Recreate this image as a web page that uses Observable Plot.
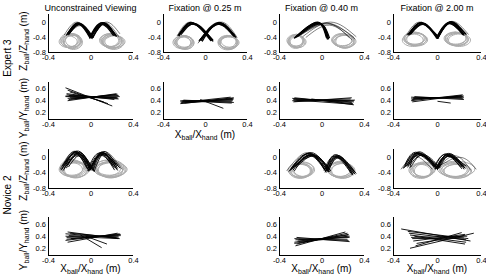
<!DOCTYPE html>
<html><head><meta charset="utf-8">
<script src="https://cdn.jsdelivr.net/npm/d3@7"></script>
<script src="https://cdn.jsdelivr.net/npm/@observablehq/plot@0.6"></script>
<style>
html,body{margin:0;padding:0;background:#fff;}
#fig{position:relative;width:486px;height:277px;overflow:hidden;background:#fff;font-family:"Liberation Sans",Arial,sans-serif;}
#fig svg{position:absolute;overflow:visible;}
</style></head><body><div id="fig"></div>
<script>
// ---------- text ----------
const titles = ["Unconstrained Viewing", "Fixation @ 0.25 m", "Fixation @ 0.40 m", "Fixation @ 2.00 m"];
const rowLabels = ["Expert 3", "Novice 2"];
const xTicks = [-0.4, 0, 0.4];
const zTicks = [-0.8, -0.4, 0];
const yTicks = [0.2, 0.4, 0.6];
const xDomain = [-0.4, 0.4];
const zDomain = [-0.8, 0.2];
const yDomain = [0.08, 0.71];

// ---------- Z panels: arcs [x0,z0, xPeak,zPeak, x1,z1]; loops [xLeft,xRight,zBottom,zTop] ----------
// Expert 3, unconstrained
const euCore = [
 [-0.21,-0.30,-0.11,-0.05,0.00,-0.40],[-0.22,-0.32,-0.12,-0.03,-0.01,-0.38],[-0.20,-0.28,-0.10,-0.06,0.01,-0.42],
 [-0.23,-0.34,-0.12,-0.02,0.00,-0.36],[-0.21,-0.33,-0.10,-0.04,0.02,-0.40],[-0.22,-0.29,-0.11,-0.07,-0.01,-0.42],
 [0.00,-0.40,0.11,-0.04,0.22,-0.34],[-0.01,-0.38,0.10,-0.02,0.23,-0.36],[0.01,-0.42,0.12,-0.05,0.22,-0.32],
 [0.00,-0.36,0.11,-0.01,0.24,-0.37],[0.02,-0.40,0.12,-0.03,0.23,-0.33],[-0.01,-0.42,0.10,-0.06,0.21,-0.35]];
const euThin = [[-0.25,-0.33,-0.13,0.00,0.01,-0.37],[-0.19,-0.26,-0.09,-0.10,0.01,-0.44],
 [0.00,-0.38,0.14,0.00,0.27,-0.30],[0.01,-0.40,0.13,-0.02,0.26,-0.38]];
const euLoops = [
 [-0.28,-0.10,-0.68,-0.32],[-0.26,-0.09,-0.70,-0.35],[-0.29,-0.12,-0.66,-0.30],[-0.25,-0.08,-0.72,-0.34],[-0.27,-0.11,-0.64,-0.33],[-0.26,-0.10,-0.69,-0.30],[-0.30,-0.13,-0.67,-0.36],[-0.24,-0.09,-0.65,-0.31],
 [0.10,0.29,-0.68,-0.32],[0.11,0.30,-0.70,-0.35],[0.09,0.27,-0.66,-0.30],[0.12,0.31,-0.72,-0.34],[0.10,0.28,-0.64,-0.33],[0.11,0.29,-0.69,-0.31],[0.13,0.32,-0.67,-0.36],[0.08,0.26,-0.65,-0.31]];
// Expert 3, fixation 0.25 m
const e25Core = [
 [-0.25,-0.33,-0.12,-0.03,0.06,-0.48],[-0.24,-0.30,-0.11,-0.05,0.05,-0.46],[-0.26,-0.35,-0.12,-0.02,0.07,-0.50],
 [-0.23,-0.32,-0.10,-0.04,0.06,-0.45],[-0.25,-0.36,-0.13,-0.01,0.05,-0.49],[-0.24,-0.31,-0.11,-0.06,0.07,-0.47],
 [0.27,-0.36,0.12,-0.03,-0.04,-0.48],[0.28,-0.38,0.13,-0.02,-0.05,-0.46],[0.26,-0.34,0.11,-0.05,-0.03,-0.50],
 [0.29,-0.40,0.12,-0.01,-0.05,-0.47],[0.27,-0.37,0.13,-0.04,-0.04,-0.45],[0.28,-0.35,0.12,-0.06,-0.06,-0.49]];
const e25Thin = [[-0.27,-0.36,-0.14,0.00,0.04,-0.44],[0.30,-0.40,0.14,0.00,-0.06,-0.52],[0.25,-0.33,0.10,-0.06,-0.07,-0.55]];
const e25Loops = [
 [-0.29,-0.12,-0.70,-0.36],[-0.28,-0.11,-0.72,-0.38],[-0.30,-0.13,-0.68,-0.35],[-0.27,-0.11,-0.71,-0.37],[-0.29,-0.14,-0.69,-0.39],[-0.28,-0.12,-0.66,-0.36],[-0.31,-0.14,-0.70,-0.37],
 [0.13,0.30,-0.70,-0.36],[0.14,0.31,-0.72,-0.38],[0.12,0.29,-0.68,-0.35],[0.14,0.30,-0.71,-0.37],[0.13,0.32,-0.69,-0.39],[0.15,0.31,-0.66,-0.36],[0.12,0.30,-0.73,-0.37]];
// Expert 3, fixation 0.40 m
const e40Core = [
 [-0.25,-0.40,-0.04,-0.02,0.05,-0.42],[-0.24,-0.37,-0.03,-0.04,0.06,-0.44],[-0.26,-0.42,-0.05,-0.01,0.04,-0.40],
 [-0.23,-0.38,-0.02,-0.05,0.06,-0.43],[-0.25,-0.41,-0.04,0.00,0.05,-0.45],[-0.24,-0.39,-0.03,-0.03,0.07,-0.41]];
const e40Thin = [[-0.22,-0.36,0.04,-0.02,0.30,-0.40],[-0.20,-0.34,0.06,-0.05,0.31,-0.44],[-0.18,-0.38,0.08,0.00,0.32,-0.38],
 [-0.15,-0.40,0.07,-0.08,0.28,-0.46],[-0.20,-0.33,0.05,-0.03,0.26,-0.42]];
const e40Loops = [
 [-0.32,-0.17,-0.66,-0.34],[-0.31,-0.16,-0.68,-0.36],[-0.33,-0.18,-0.64,-0.33],[-0.30,-0.15,-0.67,-0.37],[-0.32,-0.18,-0.69,-0.35],[-0.31,-0.17,-0.63,-0.32],
 [0.10,0.30,-0.66,-0.32],[0.12,0.31,-0.68,-0.34],[0.09,0.28,-0.64,-0.30],[0.11,0.32,-0.67,-0.35],[0.13,0.30,-0.69,-0.33],[0.10,0.29,-0.62,-0.31]];
// Expert 3, fixation 2.00 m
const e200Core = [
 [-0.26,-0.31,-0.14,-0.03,0.00,-0.40],[-0.25,-0.29,-0.13,-0.05,0.01,-0.42],[-0.27,-0.33,-0.14,-0.01,-0.01,-0.38],
 [-0.24,-0.30,-0.12,-0.04,0.00,-0.43],[-0.26,-0.34,-0.15,-0.02,0.01,-0.39],[-0.25,-0.32,-0.13,-0.06,-0.01,-0.41],
 [0.00,-0.40,0.11,0.00,0.24,-0.31],[-0.01,-0.42,0.10,-0.02,0.23,-0.33],[0.01,-0.38,0.12,0.01,0.25,-0.30],
 [0.00,-0.43,0.11,-0.03,0.24,-0.34],[0.01,-0.39,0.12,-0.01,0.26,-0.32],[-0.01,-0.41,0.10,-0.04,0.23,-0.29]];
const e200Thin = [[-0.28,-0.33,-0.16,0.00,0.00,-0.36],[0.00,-0.38,0.13,0.02,0.28,-0.32]];
const e200Loops = [
 [-0.30,-0.10,-0.62,-0.28],[-0.31,-0.12,-0.60,-0.26],[-0.29,-0.09,-0.63,-0.30],[-0.30,-0.11,-0.58,-0.27],[-0.28,-0.10,-0.61,-0.29],[-0.32,-0.13,-0.64,-0.31],
 [0.07,0.27,-0.62,-0.28],[0.06,0.26,-0.60,-0.26],[0.08,0.28,-0.63,-0.30],[0.07,0.26,-0.58,-0.27],[0.09,0.28,-0.61,-0.29],[0.10,0.30,-0.64,-0.31]];
// Novice 2, unconstrained
const nuCore = [
 [-0.26,-0.25,-0.13,0.13,-0.01,-0.32],[-0.24,-0.20,-0.12,0.10,0.00,-0.30],[-0.27,-0.30,-0.14,0.15,-0.02,-0.35],
 [-0.22,-0.18,-0.11,0.08,0.01,-0.28],[-0.25,-0.28,-0.15,0.12,-0.03,-0.30],[-0.23,-0.22,-0.10,0.11,0.02,-0.34],
 [-0.28,-0.32,-0.16,0.14,-0.02,-0.26],[-0.21,-0.24,-0.09,0.06,0.03,-0.36],
 [-0.25,-0.15,-0.14,0.09,-0.04,-0.28],[-0.27,-0.22,-0.12,0.16,0.00,-0.33],[-0.23,-0.27,-0.13,0.04,0.01,-0.31],[-0.26,-0.33,-0.11,0.13,-0.01,-0.28],
 [-0.01,-0.32,0.10,0.10,0.23,-0.25],[0.00,-0.30,0.11,0.12,0.25,-0.28],[-0.02,-0.35,0.09,0.08,0.21,-0.22],
 [0.01,-0.28,0.12,0.09,0.24,-0.30],[-0.03,-0.30,0.08,0.11,0.22,-0.32],[0.02,-0.34,0.11,0.06,0.26,-0.24],
 [-0.02,-0.26,0.10,0.13,0.20,-0.20],[0.03,-0.36,0.13,0.10,0.27,-0.27],
 [0.00,-0.28,0.12,0.15,0.24,-0.22],[-0.01,-0.33,0.09,0.05,0.22,-0.27],[0.02,-0.31,0.10,0.13,0.25,-0.33],[-0.03,-0.34,0.11,0.09,0.23,-0.19]];
const nuThin = [[-0.29,-0.30,-0.15,0.16,0.00,-0.30],[0.00,-0.30,0.13,0.14,0.29,-0.30]];
const nuLoops = [
 [-0.29,-0.05,-0.50,-0.12],[-0.27,-0.03,-0.52,-0.10],[-0.28,-0.06,-0.48,-0.08],[-0.26,-0.02,-0.51,-0.14],[-0.29,-0.07,-0.46,-0.06],[-0.25,-0.04,-0.53,-0.11],[-0.30,-0.08,-0.49,-0.13],
 [0.03,0.30,-0.50,-0.12],[0.05,0.33,-0.52,-0.10],[0.02,0.28,-0.48,-0.08],[0.06,0.32,-0.51,-0.14],[0.04,0.31,-0.46,-0.06],[0.07,0.30,-0.53,-0.11],[0.04,0.34,-0.49,-0.13]];
// Novice 2, fixation 0.40 m
const n40Core = [
 [-0.28,-0.30,-0.10,0.08,0.05,-0.35],[-0.26,-0.26,-0.09,0.05,0.06,-0.32],[-0.30,-0.34,-0.12,0.10,0.04,-0.38],
 [-0.25,-0.22,-0.08,0.03,0.07,-0.30],[-0.27,-0.32,-0.11,0.06,0.03,-0.33],[-0.29,-0.28,-0.13,0.09,0.06,-0.36],
 [-0.24,-0.25,-0.07,0.04,0.08,-0.34],[-0.31,-0.36,-0.12,0.11,0.02,-0.31],
 [-0.27,-0.24,-0.10,0.12,0.05,-0.29],[-0.29,-0.31,-0.08,0.07,0.07,-0.37],[-0.26,-0.35,-0.12,0.05,0.03,-0.34],
 [0.04,-0.35,0.14,0.02,0.30,-0.40],[0.05,-0.32,0.15,0.00,0.29,-0.42],[0.03,-0.38,0.13,0.04,0.31,-0.38],
 [0.06,-0.30,0.16,-0.02,0.28,-0.44],[0.02,-0.33,0.12,0.03,0.27,-0.39],[0.05,-0.36,0.15,0.05,0.32,-0.41],
 [0.04,-0.33,0.13,0.07,0.30,-0.36],[0.06,-0.37,0.16,0.03,0.29,-0.45],[0.03,-0.31,0.14,-0.01,0.31,-0.43]];
const n40Thin = [[-0.33,-0.34,-0.14,0.12,0.03,-0.30]];
const n40Loops = [
 [-0.30,-0.09,-0.52,-0.16],[-0.28,-0.07,-0.50,-0.14],[-0.31,-0.10,-0.54,-0.18],[-0.27,-0.08,-0.49,-0.12],[-0.29,-0.11,-0.53,-0.17],[-0.32,-0.10,-0.50,-0.15],
 [0.06,0.29,-0.52,-0.14],[0.05,0.27,-0.50,-0.12],[0.08,0.30,-0.54,-0.16],[0.07,0.28,-0.49,-0.10],[0.09,0.31,-0.53,-0.15],[0.05,0.30,-0.51,-0.13]];
// Novice 2, fixation 2.00 m
const n200Core = [
 [-0.28,-0.22,-0.17,0.10,-0.01,-0.27],[-0.26,-0.18,-0.15,0.08,0.00,-0.25],[-0.30,-0.26,-0.18,0.12,-0.02,-0.30],
 [-0.25,-0.20,-0.14,0.05,0.01,-0.28],[-0.27,-0.25,-0.16,0.11,-0.03,-0.24],[-0.29,-0.19,-0.19,0.09,0.00,-0.31],
 [-0.24,-0.24,-0.13,0.07,0.02,-0.26],[-0.31,-0.28,-0.20,0.13,-0.02,-0.22],
 [-0.27,-0.21,-0.16,0.14,0.00,-0.29],[-0.29,-0.24,-0.17,0.06,-0.01,-0.25],[-0.25,-0.27,-0.18,0.10,0.01,-0.23],
 [-0.01,-0.27,0.09,0.06,0.23,-0.23],[0.00,-0.25,0.10,0.08,0.24,-0.26],[-0.02,-0.30,0.08,0.04,0.22,-0.20],
 [0.01,-0.28,0.11,0.05,0.25,-0.28],[-0.03,-0.24,0.07,0.07,0.21,-0.25],[0.00,-0.31,0.09,0.02,0.26,-0.22],
 [0.02,-0.26,0.12,0.07,0.24,-0.30],[-0.02,-0.22,0.08,0.09,0.22,-0.24],
 [0.00,-0.29,0.10,0.10,0.24,-0.21],[-0.01,-0.26,0.11,0.03,0.25,-0.27],[0.01,-0.23,0.09,0.07,0.22,-0.29]];
const n200Thin = [[-0.02,-0.30,0.20,0.00,0.35,-0.30],[-0.33,-0.30,-0.20,0.02,-0.05,-0.30],[0.00,-0.28,0.16,0.04,0.30,-0.32]];
const n200Loops = [
 [-0.24,-0.04,-0.52,-0.16],[-0.22,-0.03,-0.50,-0.14],[-0.25,-0.06,-0.54,-0.18],[-0.23,-0.02,-0.49,-0.12],[-0.21,-0.05,-0.53,-0.17],[-0.26,-0.05,-0.51,-0.15],
 [0.03,0.28,-0.52,-0.16],[0.02,0.27,-0.50,-0.14],[0.05,0.30,-0.54,-0.18],[0.04,0.29,-0.49,-0.12],[0.06,0.31,-0.53,-0.17],[0.00,0.34,-0.50,-0.10]];

// ---------- Y panels: lines [x0,y0,x1,y1] ----------
const euLines = [[-0.23,0.50,0.25,0.44],[-0.22,0.44,0.26,0.49],[-0.24,0.47,0.24,0.46],[-0.21,0.42,0.25,0.51],[-0.23,0.52,0.22,0.42],
 [-0.20,0.45,0.27,0.47],[-0.22,0.40,0.24,0.52],[-0.24,0.48,0.26,0.43],[-0.19,0.43,0.23,0.50],[-0.21,0.49,0.25,0.45],
 [-0.24,0.62,0.20,0.31],[-0.22,0.58,0.16,0.35],[-0.20,0.55,0.12,0.38]];
const e25Lines = [[-0.24,0.38,0.26,0.42],[-0.23,0.36,0.27,0.45],[-0.22,0.40,0.25,0.39],[-0.24,0.35,0.26,0.44],[-0.21,0.41,0.27,0.37],
 [-0.23,0.37,0.24,0.46],[-0.22,0.39,0.26,0.40],[-0.24,0.40,0.25,0.36],[-0.20,0.36,0.27,0.43],[-0.05,0.42,0.17,0.27]];
const e40Lines = [[-0.28,0.44,0.28,0.37],[-0.27,0.42,0.30,0.40],[-0.26,0.45,0.29,0.35],[-0.28,0.40,0.27,0.43],[-0.25,0.43,0.30,0.38],
 [-0.27,0.38,0.28,0.45],[-0.24,0.41,0.29,0.34],[-0.26,0.39,0.31,0.41],[-0.10,0.43,0.30,0.33]];
const e200Lines = [[-0.24,0.46,0.23,0.44],[-0.23,0.42,0.24,0.48],[-0.22,0.44,0.22,0.46],[-0.24,0.40,0.23,0.50],[-0.21,0.47,0.24,0.42],
 [-0.23,0.38,0.22,0.49],[-0.22,0.45,0.24,0.45],[-0.24,0.43,0.23,0.47],[0.00,0.39,0.12,0.36]];
const nuLines = [[-0.24,0.44,0.26,0.37],[-0.23,0.38,0.28,0.41],[-0.22,0.47,0.25,0.36],[-0.24,0.33,0.27,0.44],[-0.21,0.41,0.26,0.39],
 [-0.23,0.35,0.28,0.43],[-0.20,0.45,0.24,0.38],[-0.22,0.30,0.25,0.45],[-0.24,0.40,0.27,0.36],[-0.19,0.36,0.26,0.42],
 [-0.10,0.42,0.10,0.21],[-0.05,0.40,0.15,0.27]];
const n40Lines = [[-0.26,0.30,0.25,0.42],[-0.25,0.34,0.26,0.38],[-0.24,0.27,0.24,0.45],[-0.26,0.36,0.25,0.33],[-0.23,0.32,0.26,0.40],
 [-0.25,0.24,0.22,0.47],[-0.22,0.35,0.24,0.35],[-0.26,0.28,0.25,0.43],[-0.24,0.38,0.26,0.31],[-0.20,0.30,0.23,0.39]];
const n200Lines = [[-0.33,0.52,0.30,0.32],[-0.26,0.45,0.26,0.34],[-0.24,0.38,0.27,0.40],[-0.22,0.32,0.25,0.43],[-0.25,0.20,0.33,0.45],
 [-0.20,0.24,0.22,0.46],[-0.25,0.42,0.26,0.30],[-0.23,0.36,0.24,0.37],[-0.21,0.40,0.25,0.27],[-0.27,0.48,0.28,0.36],[-0.19,0.28,0.24,0.41]];

// ---------- layout (pixels of each plot frame) ----------
const colFrames = [{l:48, w:85}, {l:163, w:84}, {l:279, w:85}, {l:393, w:88}];
const rowFrames = [{t:14, h:38}, {t:82, h:37}, {t:149, h:39}, {t:217, h:38}];
const M = {left: 22, right: 8, top: 4, bottom: 12};

const fig = document.getElementById("fig");
const fmt = d => d === 0 ? "0" : d.toFixed(1);
const FONT = '"Liberation Sans", Arial, sans-serif';

function arcRows(arcs) {
  const rows = [];
  arcs.forEach((a, i) => {
    rows.push({id: i, x: a[0], v: a[1]}, {id: i, x: a[2], v: a[3]}, {id: i, x: a[4], v: a[5]});
  });
  return rows;
}
function loopRows(loops) {
  const rows = [];
  loops.forEach((l, i) => {
    const mx = (l[0] + l[1]) / 2, mv = (l[2] + l[3]) / 2;
    rows.push({id: i, x: l[0], v: mv}, {id: i, x: mx, v: l[3]}, {id: i, x: l[1], v: mv}, {id: i, x: mx, v: l[2]});
  });
  return rows;
}

function place(svg, c, r) {
  const cf = colFrames[c], rf = rowFrames[r];
  svg.style.left = (cf.l - M.left) + "px";
  svg.style.top = (rf.t - M.top) + "px";
  fig.appendChild(svg);
}

function baseOpts(c, r, yDom, yT) {
  return {
    width: colFrames[c].w + M.left + M.right,
    height: rowFrames[r].h + M.top + M.bottom,
    marginLeft: M.left, marginRight: M.right, marginTop: M.top, marginBottom: M.bottom,
    style: {background: "transparent", fontSize: "7.5px", fontFamily: FONT, color: "#000"},
    x: {domain: xDomain, ticks: xTicks, tickFormat: fmt, tickSize: 0, tickPadding: 2, label: null},
    y: {domain: yDom, ticks: yT, tickFormat: fmt, tickSize: 0, tickPadding: 2.5, label: null}
  };
}

function zPanel(c, r, core, thin, loops, coreW) {
  const opts = baseOpts(c, r, zDomain, zTicks);
  opts.marks = [
    Plot.line(loopRows(loops), {x: "x", y: "v", z: "id", curve: "cardinal-closed", tension: -0.6, stroke: "#ababab", strokeWidth: 1, clip: true}),
    Plot.line(arcRows(thin), {x: "x", y: "v", z: "id", curve: "natural", stroke: "#000", strokeWidth: 0.5, clip: true}),
    Plot.line(arcRows(core), {x: "x", y: "v", z: "id", curve: "natural", stroke: "#000", strokeWidth: coreW, clip: true}),
    Plot.ruleX([xDomain[0]], {stroke: "#000", strokeWidth: 1}),
    Plot.ruleY([zDomain[0]], {stroke: "#000", strokeWidth: 1})
  ];
  place(Plot.plot(opts), c, r);
}

function yPanel(c, r, lines) {
  const opts = baseOpts(c, r, yDomain, yTicks);
  opts.marks = [
    Plot.link(lines, {x1: d => d[0], y1: d => d[1], x2: d => d[2], y2: d => d[3], stroke: "#000", strokeWidth: 0.9, clip: true}),
    Plot.ruleX([xDomain[0]], {stroke: "#000", strokeWidth: 1}),
    Plot.ruleY([yDomain[0]], {stroke: "#000", strokeWidth: 1})
  ];
  place(Plot.plot(opts), c, r);
}

zPanel(0, 0, euCore, euThin, euLoops, 1.2);
zPanel(1, 0, e25Core, e25Thin, e25Loops, 1.2);
zPanel(2, 0, e40Core, e40Thin, e40Loops, 1.2);
zPanel(3, 0, e200Core, e200Thin, e200Loops, 1.2);
yPanel(0, 1, euLines);
yPanel(1, 1, e25Lines);
yPanel(2, 1, e40Lines);
yPanel(3, 1, e200Lines);
zPanel(0, 2, nuCore, nuThin, nuLoops, 0.9);
zPanel(2, 2, n40Core, n40Thin, n40Loops, 0.9);
zPanel(3, 2, n200Core, n200Thin, n200Loops, 0.9);
yPanel(0, 3, nuLines);
yPanel(2, 3, n40Lines);
yPanel(3, 3, n200Lines);

// ---------- overlay text ----------
const ov = d3.select(fig).append("svg").attr("width", 486).attr("height", 277)
  .style("left", "0px").style("top", "0px").style("font-family", FONT).attr("fill", "#000");

const colCenters = colFrames.map(f => f.l + f.w / 2);
titles.forEach((t, i) => {
  ov.append("text").attr("x", colCenters[i]).attr("y", 10.5).attr("text-anchor", "middle")
    .attr("font-size", 9).text(t);
});
const rowLabelY = [58, 195];
rowLabels.forEach((t, i) => {
  ov.append("text").attr("transform", `translate(10.5,${rowLabelY[i]}) rotate(-90)`)
    .attr("text-anchor", "middle").attr("font-size", 10).text(t);
});

function subLabel(g, parts) {
  const t = g.append("text").attr("font-size", 10);
  parts.forEach(([s, sub], k) => {
    const prevSub = k > 0 && parts[k - 1][1];
    const ts = t.append("tspan").text(s);
    if (sub) ts.attr("font-size", 7).attr("dy", prevSub ? 0 : 2.2);
    else if (prevSub) ts.attr("dy", -2.2);
  });
  return t;
}
const zLabel = [["Z", 0], ["ball", 1], ["/Z", 0], ["hand", 1], [" (m)", 0]];
const yLabel = [["Y", 0], ["ball", 1], ["/Y", 0], ["hand", 1], [" (m)", 0]];
const xLabel = [["X", 0], ["ball", 1], ["/X", 0], ["hand", 1], [" (m)", 0]];

const yLabelRows = [{parts: zLabel, y: 41}, {parts: yLabel, y: 108}, {parts: zLabel, y: 171}, {parts: yLabel, y: 240}];
yLabelRows.forEach(d => {
  subLabel(ov, d.parts).attr("transform", `translate(27,${d.y}) rotate(-90)`).attr("text-anchor", "middle");
});
const xLabelPos = [{c: 1, y: 137.5}, {c: 0, y: 272}, {c: 2, y: 272}, {c: 3, y: 272}];
xLabelPos.forEach(d => {
  subLabel(ov, xLabel).attr("transform", `translate(${colCenters[d.c]},${d.y})`).attr("text-anchor", "middle");
});
</script></body></html>
